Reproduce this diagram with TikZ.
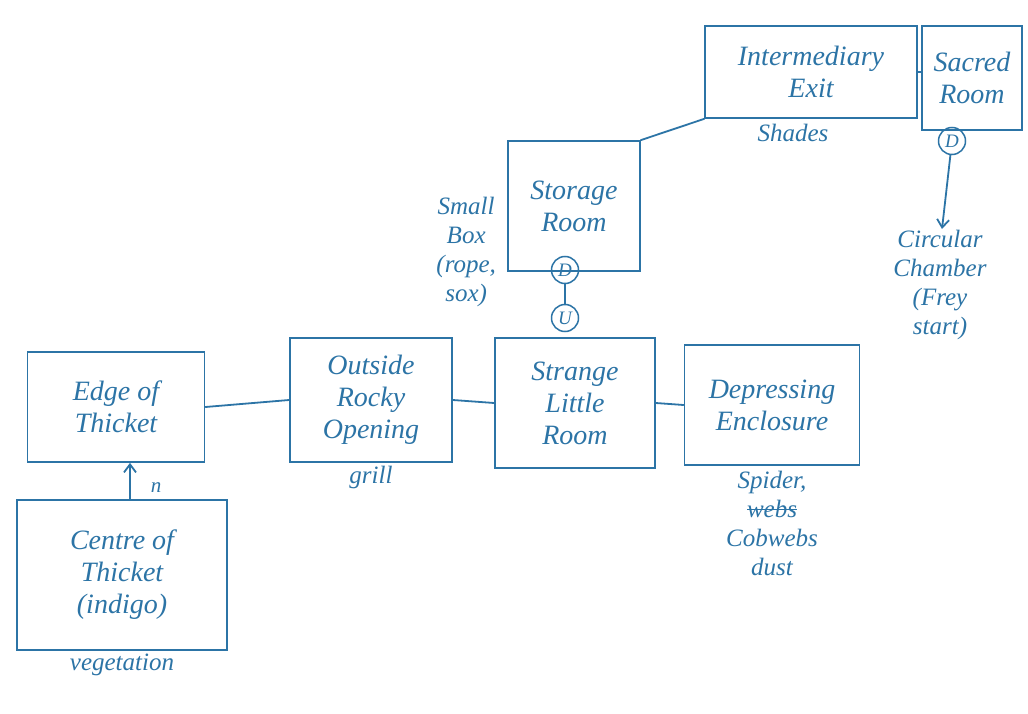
\documentclass[tikz,border=0pt]{standalone}
\usepackage{fontspec}
\setmainfont{Liberation Serif}
\usetikzlibrary{arrows.meta}
\definecolor{ink}{RGB}{44,116,166}
% a word with a line drawn through it
\newcommand\strikeword[1]{\setbox0\hbox{#1}\rlap{\raisebox{0.28em}{\rule{\wd0}{1.4pt}}}\box0}
\tikzset{
  room/.style={draw=ink, line width=1.8pt, text=ink, align=center, inner sep=0pt,
    font=\fontsize{28}{32}\selectfont\itshape},
  note/.style={text=ink, align=center, inner sep=1pt, font=\fontsize{25}{29}\selectfont\itshape},
  door/.style={circle, draw=ink, line width=1.5pt, text=ink, inner sep=0pt, minimum size=27pt,
    font=\fontsize{19}{21}\selectfont\itshape},
  link/.style={draw=ink, line width=1.8pt, line cap=round},
}
\begin{document}
\begin{tikzpicture}[x=1pt, y=-1pt]
\useasboundingbox[fill=white] (0,0) rectangle (1028,714);

% rooms
\node[room, minimum width=177pt, minimum height=110pt] (edge) at (116,407) {Edge of\\Thicket};
\node[room, minimum width=210pt, minimum height=150pt] (centre) at (122,575) {Centre of\\Thicket\\(indigo)};
\node[room, minimum width=162pt, minimum height=124pt] (outside) at (371,400) {Outside\\Rocky\\Opening};
\node[room, minimum width=160pt, minimum height=130pt] (strange) at (575,403) {Strange\\Little\\Room};
\node[room, minimum width=175pt, minimum height=120pt] (depress) at (772,405) {Depressing\\Enclosure};
\node[room, minimum width=132pt, minimum height=130pt] (storage) at (574,206) {Storage\\Room};
\node[room, minimum width=212pt, minimum height=92pt] (inter) at (811,72) {Intermediary\\Exit};
\node[room, minimum width=100pt, minimum height=104pt] (sacred) at (972,78) {Sacred\\Room};

% notes beside the rooms
\node[note, anchor=north] (veg) at ([yshift=-2pt]centre.south) {vegetation};
\node[note, anchor=north] (grill) at ([yshift=-2pt]outside.south) {grill};
\node[note, anchor=north] (shades) at ([xshift=-18pt,yshift=-4pt]inter.south) {Shades};
\node[note, anchor=north, yshift=-4pt] (spider) at (depress.south) {Spider,\\\strikeword{webs}\\Cobwebs\\dust};
\node[note, anchor=east] (box) at ([xshift=-10pt,yshift=20pt]storage.south west) {Small\\Box\\(rope,\\sox)};
\node[note] (circ) at (940,285) {Circular\\Chamber\\(Frey\\start)};
\node[note, font=\fontsize{21}{23}\selectfont\itshape] (north) at (156,488) {n};

% stair markers
\node[door] (sdown) at (565,270) {D};
\node[door] (sup) at (565,318) {U};
\node[door] (rdown) at (952,141) {D};

% connections
\draw[link] (edge.east) -- (outside.west);
\draw[link] (outside.east) -- (strange.west);
\draw[link] (strange.east) -- (depress.west);
\draw[link] (storage.north east) -- (inter.south west);
\draw[link] (inter.east) -- (inter.east -| sacred.west);
\draw[link] (sdown) -- (sup);
\draw[link, -{Straight Barb[length=8pt,width=12pt]}] (centre.north -| 130,0) -- (edge.south -| 130,0);
\draw[link, -{Straight Barb[length=8pt,width=12pt]}] (rdown) -- (circ.north -| 942,0);
\end{tikzpicture}
\end{document}
